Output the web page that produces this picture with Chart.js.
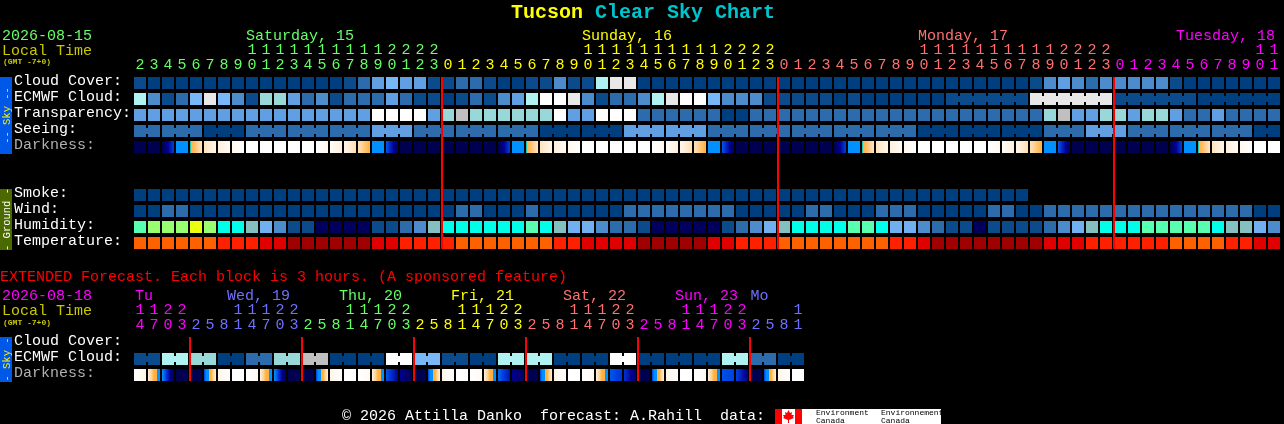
<!DOCTYPE html>
<html>
<head>
<meta charset="utf-8">
<title>Tucson Clear Sky Chart</title>
<script src="https://cdn.jsdelivr.net/npm/chart.js@4"></script>
<style>
   html, body { margin: 0; padding: 0; background: #000; overflow: hidden; }
   canvas { position: absolute; left: 0; top: 0; }
</style>
</head>
<body>
<canvas id="forecast" width="1284" height="424"></canvas>
<canvas id="extended" width="1284" height="424"></canvas>
<script>
// hours along the top, first column is 02:00 on Saturday
const hours = [2,3,4,5,6,7,8,9,10,11,12,13,14,15,16,17,18,19,20,21,22,23,
   0,1,2,3,4,5,6,7,8,9,10,11,12,13,14,15,16,17,18,19,20,21,22,23,
   0,1,2,3,4,5,6,7,8,9,10,11,12,13,14,15,16,17,18,19,20,21,22,23,
   0,1,2,3,4,5,6,7,8,9,10,11];
const extHours = [14,17,20,23,
   2,5,8,11,14,17,20,23, 2,5,8,11,14,17,20,23, 2,5,8,11,14,17,20,23,
   2,5,8,11,14,17,20,23, 2,5,8,11,14,17,20,23, 2,5,8,11];

const rowLabels = ["Cloud Cover:", "ECMWF Cloud:", "Transparency:", "Seeing:", "Darkness:", "", "", "Smoke:", "Wind:", "Humidity:", "Temperature:"];
const extRowLabels = ["Cloud Cover:", "ECMWF Cloud:", "Darkness:"];

// levels index into the palettes below
const cloudCover = [1,0,0,0,0,0,0,0,0,0,0,0,0,0,0,1,2,4,5,4,4,
   1,1,2,2,1,0,0,1,1,3,1,1,7,9,9,
   0,0,0,0,0,0,0,0,0,0,0,0,0,0,0,0,0,0,0,0,0,0,0,0,0,0,0,0,
   1,3,4,3,2,3,3,3,3,3,1,0,0,0,0,0,0,0];
const ecmwfCloud = [7,3,1,2,5,9,5,3,1,6,6,4,2,3,1,2,2,2,4,2,1,
   1,0,1,2,1,3,4,7,10,10,9,3,1,2,2,3,7,9,10,10,5,3,3,3,1,1,1,1,1,0,1,
   0,0,0,0,0,0,
   1,1,1,1,1,1,9,9,9,9,9,9,1,1,1,1,1,1,0,0,0,0,0,0];
const ecmwfGroups = [1,1,1,1,1,1,1,1,1,1,1,1,1,1,1,1,1,1,1,1,1,1,1,1,1,1,1,1,1,
   1,1,1,1,1,1,1,1,1,1,1,1,1,1,1,1,1,1,1,1,1,1,1,1,1,1,1,1,1,6,6,6,6];
const transparency = [4,4,4,4,4,4,4,4,4,4,4,4,4,4,4,4,4,10,10,10,10,
   4,6,8,6,6,6,6,6,6,10,4,4,10,10,10,
   2,2,2,2,2,2,0,0,2,2,2,2,2,2,2,2,2,2,2,2,2,2,2,2,2,2,2,2,2,
   6,8,4,4,6,6,4,6,6,4,2,2,4,2,2,2,2];
const seeing = [2,2,2,2,2,0,0,0,2,2,2,2,2,2,2,2,2,4,4,4,2,
   2,2,2,2,2,2,2,2,0,0,0,0,0,0,4,4,4,4,4,4,2,2,2,2,2,2,2,2,2,2,2,2,2,2,2,
   0,0,0,0,0,0,0,0,0,2,2,2,4,4,4,2,2,2,2,2,2,2,2,2,0,0];
const seeingGroups = [2,3,3,3,3,3,3,3,3,3,3,3,3,3,3,3,3,3,3,3,3,3,3,3,3,3,3,2];
const smoke = [0,0,0,0,0,0,0,0,0,0,0,0,0,0,0,0,0,0,0,0,0,0,0,0,0,0,0,0,0,0,0,0,
   0,0,0,0,0,0,0,0,0,0,0,0,0,0,0,0,0,0,0,0,0,0,0,0,0,0,0,0,0,0,0,0];
const wind = [0,0,2,2,0,0,0,0,0,0,0,0,0,0,0,0,0,0,0,0,0,
   0,0,2,2,0,0,0,2,0,0,0,0,0,0,2,2,2,2,2,2,2,2,0,0,0,0,0,2,2,0,0,
   0,2,2,2,0,0,0,0,0,2,2,0,0,2,2,2,2,2,2,2,2,2,2,2,2,2,2,2,0,0];
const humidity = [7,8,8,8,9,8,6,6,5,4,3,1,1,0,0,0,0,1,1,2,3,
   5,6,6,6,6,6,6,7,6,5,4,4,3,2,2,1,0,0,0,0,0,1,2,3,4,5,6,6,6,6,7,
   7,6,4,4,3,2,1,1,0,1,1,1,1,2,3,4,5,6,6,6,7,7,7,7,7,6,5,5,4,3];
const temperature = [3,3,3,3,3,3,2,2,2,1,1,0,0,0,0,0,0,1,1,2,2,
   2,2,3,3,3,3,3,3,3,2,2,1,1,1,1,0,0,0,0,0,1,1,2,2,2,3,3,3,3,3,3,
   3,3,2,2,1,0,0,0,0,0,0,0,0,1,1,1,2,2,2,2,2,2,3,3,3,3,2,2,1,1];

// twilight runs inside a block, so each block has a start and an end level
const darknessFrom = [0,0,0,3,4,6.5,7,7.5,8,8,8,8,8,8,7.8,7.3,6.3,3,2.3,0,0,0,0,0,0,0,
   0,3,4,6.5,7,7.5,8,8,8,8,8,8,7.8,7.3,6.3,3,2.3,0,0,0,0,0,0,0,
   0,3,4,6.5,7,7.5,8,8,8,8,8,8,7.8,7.3,6.3,3,2.3,0,0,0,0,0,0,0,
   0,3,4,6.5,7,7.5,8,8];
const darknessTo = [0,0,2,3,6.6,7.3,7.7,8,8,8,8,8,8,7.6,7,6.3,5,3,0.3,0,0,0,0,0,0,0,
   2,3,6.6,7.3,7.7,8,8,8,8,8,8,7.6,7,6.3,5,3,0.3,0,0,0,0,0,0,0,
   2,3,6.6,7.3,7.7,8,8,8,8,8,8,7.6,7,6.3,5,3,0.3,0,0,0,0,0,0,0,
   2,3,6.6,7.3,7.7,8,8,8];

const extEcmwf = [1,1,7,7,6,6,0,0,2,2,6,6,8,8,0,0,0,0,10,10,5,5,1,1,0,0,7,7,7,7,0,0,0,0,10,10,0,0,0,0,0,0,7,7,2,2,0,0];
const extGroups = [2,2,2,2,2,2,2,2,2,2,2,2,2,2,2,2,2,2,2,2,2,2,2,2];
const extDarkFrom = [8,7,3,0,0,2,7.3,8,8,7,3,0,0,2,7.3,8,8,7,2.3,1,0,2,7.3,8,8,7,2.5,1,0,2,7.3,8,8,7,2.3,1.8,0,2,7.3,8,8,7,2.2,2,0,2,7.3,8];
const extDarkTo = [7.3,3,0,0,0,7,8,8,7.6,3,0,0,0,7,8,8,7.6,3,1,0,0,7,8,8,7.6,3,1.3,0.3,0,7,8,8,7.6,3,1.8,0.5,0,7,8,8,7.6,3,2,0.8,0,7,8,8];

// midnight columns, the red line sits at the end of each
const midnights = [21, 45, 69];
const extMidnights = [3, 11, 19, 27, 35, 43];

const dayNames = ["Saturday, 15", "Sunday, 16", "Monday, 17", "Tuesday, 18"];
const dayStarts = [7.57, 31.57, 55.57, 74];
const dayColors = ["#66ff66", "#ffff00", "#ff7070", "#ff00ff"];
const dayEnds = [21, 45, 69, 81];

const extDayNames = ["Tu", "Wed, 19", "Thu, 20", "Fri, 21", "Sat, 22", "Sun, 23", "Mo"];
const extDayStarts = [-0.36, 6.21, 14.21, 22.21, 30.21, 38.21, 43.6];
const extDayColors = ["#ff00ff", "#7070ff", "#66ff66", "#ffff00", "#ff7070", "#ff00ff", "#7070ff"];
const extDayEnds = [3, 11, 19, 27, 35, 43, 47];

const cloudColors = ["#003f7f", "#0c4b8b", "#2c6cac", "#4c8ccc", "#60a0e2", "#78b8f8", "#98d8d8", "#b0f2f2", "#c0c0c0", "#e8e8e8", "#ffffff"];
const humidityColors = ["#00005c", "#0c4b8b", "#2c6cac", "#4c8ccc", "#70b0f0", "#84c0c0", "#00ffe8", "#58ffb0", "#98ff70", "#e8ff10"];
const temperatureColors = ["#a00000", "#e00000", "#ff2000", "#ff6000"];
const darknessColors = [[0,0,80], [0,0,144], [0,64,224], [0,144,255], [32,200,176], [255,176,64], [255,216,160], [255,240,220], [255,255,255]];

const MONO = '"Liberation Mono"';
const BLOCK = 0.375;
const LINK = 0.1875;
const LINE_SHIFT = 0.5714;

function darkColor(level) {
   const low = Math.floor(level);
   const high = Math.min(low + 1, darknessColors.length - 1);
   const t = level - low;
   const c = darknessColors[low].map((v, i) => Math.round(v + (darknessColors[high][i] - v) * t));
   return `rgb(${c.join(",")})`;
}

// gradient across one block, blue and orange meet with a hard edge
function darkGradient(chart, index, from, to) {
   if (index === undefined || from === undefined) return "#000050";
   if (from === to) return darkColor(from);
   const x = chart.scales.x.getPixelForValue(index);
   if (!isFinite(x)) return darkColor(from);
   const g = chart.ctx.createLinearGradient(x - 6, 0, x + 6, 0);
   const up = to > from;
   const levels = [];
   for (let l = Math.floor(Math.min(from, to)) + 1; l < Math.max(from, to); l++) levels.push(l);
   if (!up) levels.reverse();
   if (from === 4) {
      g.addColorStop(0, darkColor(4));
      g.addColorStop(0.1, darkColor(4));
      g.addColorStop(0.1, darkColor(5));
      levels.shift();
   } else {
      g.addColorStop(0, darkColor(from));
   }
   for (const level of levels) {
      const pos = (level - from) / (to - from);
      if (level === 4) {
         g.addColorStop(pos, darkColor(up ? 3 : 5));
         g.addColorStop(pos, darkColor(up ? 5 : 3));
      } else {
         g.addColorStop(pos, darkColor(level));
      }
   }
   g.addColorStop(1, darkColor(to));
   return g;
}

function rowBlocks(row, values, palette) {
   return {
      stack: "s",
      barThickness: 12,
      data: values.map((v, i) => ({ x: i, y: [row - BLOCK, row + BLOCK], v: v })),
      backgroundColor: (ctx) => palette[ctx.raw ? ctx.raw.v : 0],
   };
}

// blocks of one forecast period are tied together by a thin bridge
function rowLinks(row, values, groups, palette) {
   const data = [];
   let start = 0;
   for (const size of groups) {
      for (let i = start; i < start + size - 1; i++) {
         data.push({ x: i + 0.5, y: [row - LINK, row + LINK], v: values[i] });
      }
      start += size;
   }
   return {
      stack: "s",
      barThickness: 2,
      data: data,
      backgroundColor: (ctx) => palette[ctx.raw ? ctx.raw.v : 0],
   };
}

function rowDarkness(row, from, to) {
   return {
      stack: "s",
      barThickness: 12,
      data: from.map((v, i) => ({ x: i, y: [row - BLOCK, row + BLOCK] })),
      backgroundColor: (ctx) => darkGradient(ctx.chart, ctx.dataIndex, from[ctx.dataIndex], to[ctx.dataIndex]),
   };
}

function redLines(columns, lastRow) {
   return {
      stack: "s",
      barThickness: 2,
      data: columns.map((c) => ({ x: c + LINE_SHIFT, y: [-BLOCK, lastRow + BLOCK] })),
      backgroundColor: "#ff0000",
   };
}

function hourColor(index, ends, colors) {
   for (let d = 0; d < ends.length; d++) {
      if (index <= ends[d]) return colors[d];
   }
   return colors[colors.length - 1];
}

function put(ctx, text, x, y, color, font) {
   ctx.font = font;
   ctx.fillStyle = color;
   ctx.textAlign = "left";
   ctx.textBaseline = "alphabetic";
   ctx.fillText(text, x, y);
}

function sideStrip(ctx, top, bottom, color, textColor, text) {
   ctx.fillStyle = color;
   ctx.fillRect(0, top, 12, bottom - top);
   ctx.save();
   ctx.translate(10, (top + bottom) / 2);
   ctx.rotate(-Math.PI / 2);
   ctx.font = `10.5px ${MONO}`;
   ctx.fillStyle = textColor;
   ctx.textAlign = "center";
   ctx.textBaseline = "alphabetic";
   ctx.fillText(text, 0, 0);
   ctx.restore();
}

function canadaLogo(ctx) {
   ctx.fillStyle = "#ffffff";
   ctx.fillRect(775, 409, 166, 15);
   ctx.fillStyle = "#ff0000";
   ctx.fillRect(775, 409, 7, 15);
   ctx.fillRect(795, 409, 7, 15);
   ctx.beginPath();
   const leaf = [[788.5,410], [790,413], [792,412], [791.5,415], [794,415], [793,417], [794,418], [789,420], [789,423], [788,423], [788,420], [783,418], [784,417], [783,415], [785.5,415], [785,412], [787,413]];
   leaf.forEach((p, i) => (i ? ctx.lineTo(p[0], p[1]) : ctx.moveTo(p[0], p[1])));
   ctx.fill();
   const small = `8px ${MONO}`;
   put(ctx, "Environment", 816, 415, "#000000", small);
   put(ctx, "Canada", 816, 423, "#000000", small);
   put(ctx, "Environnement", 881, 415, "#000000", small);
   put(ctx, "Canada", 881, 423, "#000000", small);
}

const topTexts = {
   id: "topTexts",
   afterDraw(chart) {
      const ctx = chart.ctx;
      const x = chart.scales.x;
      const text = `15px ${MONO}`;
      put(ctx, "Tucson", 511, 18, "#ffff00", `bold 20px ${MONO}`);
      put(ctx, "Clear Sky Chart", 595, 18, "#00c4cc", `bold 20px ${MONO}`);
      put(ctx, "2026-08-15", 2, 40, "#66ff66", text);
      put(ctx, "Local Time", 2, 55, "#c8c800", text);
      put(ctx, "(GMT -7+0)", 3, 64, "#c8c800", `bold 8px ${MONO}`);
      dayNames.forEach((name, i) => put(ctx, name, x.getPixelForValue(dayStarts[i]), 40, dayColors[i], text));
      sideStrip(ctx, 77, 154, "#0058e8", "#ffee00", "-- Sky --");
      sideStrip(ctx, 189, 250, "#4a6a00", "#ffffff", "- Ground -");
   }
};

const lowTexts = {
   id: "lowTexts",
   afterDraw(chart) {
      const ctx = chart.ctx;
      const x = chart.scales.x;
      const text = `15px ${MONO}`;
      put(ctx, "EXTENDED Forecast. Each block is 3 hours. (A sponsored feature)", 0, 281, "#ff0000", text);
      put(ctx, "2026-08-18", 2, 300, "#ff00ff", text);
      put(ctx, "Local Time", 2, 315, "#c8c800", text);
      put(ctx, "(GMT -7+0)", 3, 325, "#c8c800", `bold 8px ${MONO}`);
      extDayNames.forEach((name, i) => put(ctx, name, x.getPixelForValue(extDayStarts[i]), 300, extDayColors[i], text));
      sideStrip(ctx, 337, 382, "#0058e8", "#ffee00", "- Sky -");
      put(ctx, "\u00a9 2026 Attilla Danko  forecast: A.Rahill  data:", 342, 420, "#ffffff", text);
      canadaLogo(ctx);
   }
};

function buildChart(id, cfg) {
   return new Chart(document.getElementById(id), {
      type: "bar",
      data: { datasets: cfg.datasets },
      plugins: [cfg.plugin],
      options: {
         responsive: false,
         devicePixelRatio: 1,
         animation: false,
         events: [],
         inflateAmount: 0,
         borderWidth: 0,
         borderSkipped: false,
         layout: { padding: { left: 14, right: 1284 - 133 - cfg.hours.length * 14, top: cfg.top, bottom: cfg.bottom } },
         plugins: { legend: { display: false }, tooltip: { enabled: false }, title: { display: false } },
         scales: {
            x: {
               type: "linear",
               position: "top",
               stacked: true,
               offset: false,
               min: -0.5,
               max: cfg.hours.length - 0.5,
               grid: { display: false },
               border: { display: false },
               afterFit: (scale) => { scale.height = 40; },
               afterBuildTicks: (scale) => { scale.ticks = cfg.hours.map((h, i) => ({ value: i })); },
               ticks: {
                  autoSkip: false,
                  maxRotation: 0,
                  minRotation: 0,
                  padding: -6,
                  font: { family: MONO, size: 15, lineHeight: "15px" },
                  color: (ctx) => hourColor(ctx.index, cfg.ends, cfg.colors),
                  callback: (v) => {
                     const h = cfg.hours[v];
                     return h < 10 ? ["", String(h)] : [String(h)[0], String(h)[1]];
                  },
               },
            },
            y: {
               type: "linear",
               reverse: true,
               stacked: false,
               min: -0.5,
               max: cfg.labels.length - 0.5,
               grid: { display: false },
               border: { display: false },
               afterFit: (scale) => { scale.width = 119; },
               afterBuildTicks: (scale) => { scale.ticks = cfg.labels.map((l, i) => ({ value: i })); },
               ticks: {
                  autoSkip: false,
                  crossAlign: "far",
                  labelOffset: -2,
                  font: { family: MONO, size: 15 },
                  color: (ctx) => (cfg.labels[ctx.tick.value] === "Darkness:" ? "#b0b0b0" : "#ffffff"),
                  callback: (v) => cfg.labels[v],
               },
            },
         },
      },
   });
}

buildChart("forecast", {
   hours: hours,
   labels: rowLabels,
   ends: dayEnds,
   colors: dayColors,
   top: 35,
   bottom: 173,
   plugin: topTexts,
   datasets: [
      redLines(midnights, 10),
      rowBlocks(0, cloudCover, cloudColors),
      rowBlocks(1, ecmwfCloud, cloudColors),
      rowLinks(1, ecmwfCloud, ecmwfGroups, cloudColors),
      rowBlocks(2, transparency, cloudColors),
      rowBlocks(3, seeing, cloudColors),
      rowLinks(3, seeing, seeingGroups, cloudColors),
      rowDarkness(4, darknessFrom, darknessTo),
      rowBlocks(7, smoke, cloudColors),
      rowBlocks(8, wind, cloudColors),
      rowBlocks(9, humidity, humidityColors),
      rowBlocks(10, temperature, temperatureColors),
   ],
});

buildChart("extended", {
   hours: extHours,
   labels: extRowLabels,
   ends: extDayEnds,
   colors: extDayColors,
   top: 295,
   bottom: 41,
   plugin: lowTexts,
   datasets: [
      redLines(extMidnights, 2),
      rowBlocks(1, extEcmwf, cloudColors),
      rowLinks(1, extEcmwf, extGroups, cloudColors),
      rowDarkness(2, extDarkFrom, extDarkTo),
   ],
});
</script>
</body>
</html>
